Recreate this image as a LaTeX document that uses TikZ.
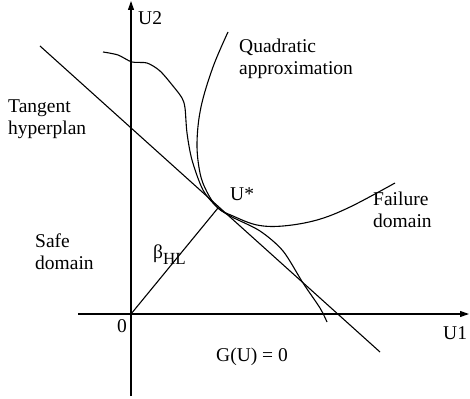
\documentclass[tikz,border=0pt]{standalone}
\usepackage{fontspec}
\setmainfont{Liberation Serif}
\usetikzlibrary{arrows.meta}
\begin{document}
\begin{tikzpicture}[x=1pt,y=-1pt,
  line/.style={line width=1.1pt},
  axis/.style={line width=1.1pt,-{Triangle[length=9pt,width=6pt]}},
  lbl/.style={inner sep=0pt,anchor=base west,align=left,font=\fontsize{19.5}{22}\selectfont}]
\useasboundingbox (0,0) rectangle (470,398);
% key points
\coordinate (O) at (131,314);
\coordinate (Ustar) at (218,208);
\coordinate (ybot) at (131,396);
\coordinate (ytop) at (131,1);
\coordinate (xl) at (78,314);
\coordinate (xr) at (469,314);
\coordinate (t1) at (40,46);
\coordinate (t2) at (380,352);
% axes
\draw[axis] (ybot) -- (ytop);
\draw[axis] (xl) -- (xr);
% tangent hyperplane
\draw[line] (t1) -- (t2);
% reliability index
\draw[line] (O) -- (Ustar);
% quadratic approximation
\draw[line] plot[smooth,tension=0.6] coordinates {(228,32) (213,67) (201,107) (197,143) (200,173) (207,192) (218,208) (233,216) (257,225) (283,226) (317,220) (350,207) (395,183)};
% limit state G(U)=0
\draw[line] plot[smooth,tension=0.5] coordinates {(103,52) (118,55) (132,62) (147,63) (160,71) (173,86) (182,98) (185,108) (187,133) (192,160) (203,190) (218,208) (232,217) (260,231) (283,251) (303,283) (320,308) (327,322)};
% labels (base = baseline of last line)
\node[lbl] (lU2) at (138,25) {U2};
\node[lbl] (lQ) at (239,75) {Quadratic\\approximation};
\node[lbl] (lT) at (8,135) {Tangent\\hyperplan};
\node[lbl] (lUs) at (230,200) {U*};
\node[lbl] (lF) at (373,227) {Failure\\domain};
\node[lbl] (lS) at (35,269) {Safe\\domain};
\node[lbl] (lB) at (153,258) {β\raisebox{-6pt}{\fontsize{17}{17}\selectfont HL}};
\node[lbl] (l0) at (117,332) {0};
\node[lbl] (lU1) at (443,339) {U1};
\node[lbl] (lG) at (216,361) {G(U) = 0};
\end{tikzpicture}
\end{document}
